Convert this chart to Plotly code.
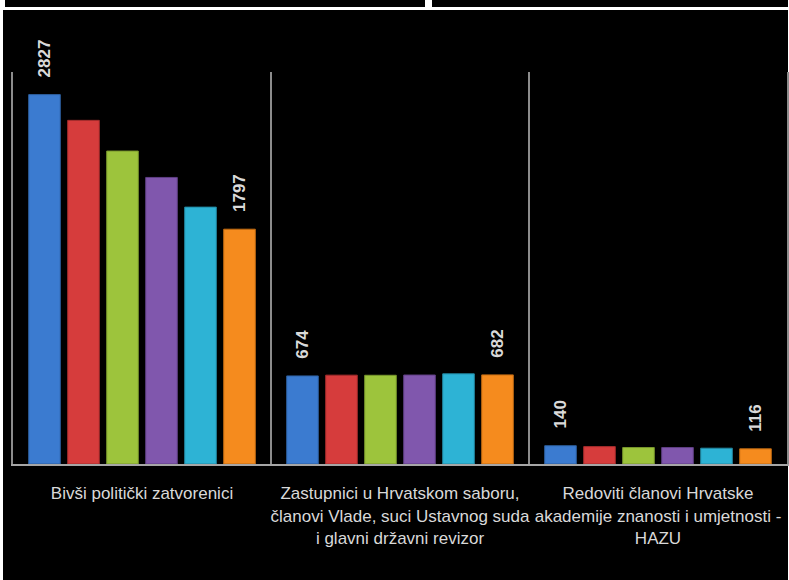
import plotly.graph_objects as go

categories = [
    "Bivši politički zatvorenici",
    "Zastupnici u Hrvatskom saboru,<br>članovi Vlade, suci Ustavnog suda<br>i glavni državni revizor",
    "Redoviti članovi Hrvatske<br>akademije znanosti i umjetnosti -<br>HAZU",
]
series_names = ["S1", "S2", "S3", "S4", "S5", "S6"]
s1 = [2827, 674, 140]
s2 = [2630, 680, 133]
s3 = [2395, 679, 126]
s4 = [2193, 681, 126]
s5 = [1966, 690, 121]
s6 = [1797, 682, 116]
series_values = [s1, s2, s3, s4, s5, s6]
labelled = [True, False, False, False, False, True]
colors = ["#3b7bd0", "#d63c3c", "#9dc43c", "#8057ad", "#2db3d5", "#f58b1e"]
line_colors = ["#2d5f9e", "#a52c2c", "#78972c", "#5f3f84", "#2289a3", "#c06a12"]

W, H = 789, 580
ML, MR, MT, MB = 13, 2, 72, 116
PW, PH = W - ML - MR, H - MT - MB
NBSP = "\u00a0"

fig = go.Figure()
for name, vals, lab, c, lc in zip(series_names, series_values, labelled, colors, line_colors):
    fig.add_trace(go.Bar(
        name=name,
        x=categories,
        y=vals,
        marker=dict(color=c, line=dict(color=lc, width=1)),
        text=[NBSP * 3 + str(v) for v in vals] if lab else None,
        textposition="outside" if lab else "none",
        textangle=-90,
        constraintext="none",
        cliponaxis=False,
        textfont=dict(family="Liberation Sans, Arial, sans-serif", size=17,
                      color="#d9d9d9", weight="bold"),
        hoverinfo="x+y",
    ))


def px(x):
    return (x - ML) / PW


def py(y):
    return (H - MB - y) / PH


shapes = []
for x0, y0, x1, y1 in [(5, 0, 425, 7), (432, 0, 788, 7), (3, 10, 788, 580)]:
    shapes.append(dict(type="rect", xref="paper", yref="paper",
                       x0=px(x0), x1=px(x1), y0=py(y1), y1=py(y0),
                       fillcolor="black", line=dict(width=0), layer="below"))

fig.update_layout(
    width=W, height=H,
    margin=dict(l=ML, r=MR, t=MT, b=MB, pad=0, autoexpand=False),
    paper_bgcolor="white",
    plot_bgcolor="rgba(0,0,0,0)",
    barmode="group",
    bargap=0.093,
    bargroupgap=0.19,
    showlegend=False,
    shapes=shapes,
    font=dict(family="Liberation Sans, Arial, sans-serif", color="#d9d9d9"),
    xaxis=dict(
        type="category",
        tickson="boundaries",
        ticks="",
        showgrid=True,
        gridcolor="#8c8c8c",
        gridwidth=1.5,
        showline=True,
        linecolor="#a6a6a6",
        linewidth=2,
        tickangle=0,
        automargin=False,
        tickfont=dict(size=17, color="#d9d9d9"),
        ticklabelstandoff=13,
        range=[-0.5, 2.5],
        fixedrange=True,
    ),
    yaxis=dict(
        range=[0, 3000],
        showgrid=False,
        showticklabels=False,
        zeroline=False,
        showline=True,
        mirror=True,
        linecolor="#8c8c8c",
        linewidth=1.5,
        ticks="",
        automargin=False,
        fixedrange=True,
    ),
)

fig.write_html(
    "out.html",
    config={"displayModeBar": False},
    post_script="document.body.style.margin='0';document.body.style.padding='0';",
)
